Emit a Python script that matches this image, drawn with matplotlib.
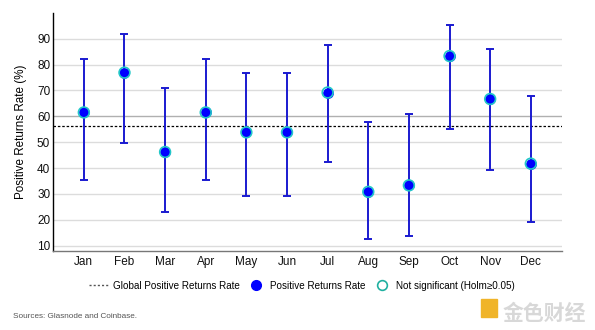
import matplotlib
matplotlib.use("Agg")
import matplotlib.pyplot as plt
from matplotlib.lines import Line2D
from matplotlib.patches import Rectangle
import numpy as np

plt.rcParams["font.family"] = ["Liberation Sans", "DejaVu Sans"]

MONTHS = ["Jan", "Feb", "Mar", "Apr", "May", "Jun", "Jul", "Aug", "Sep", "Oct", "Nov", "Dec"]
RATE = [61.5, 76.9, 46.2, 61.5, 53.8, 53.8, 69.2, 30.8, 33.3, 83.3, 66.7, 41.7]
CI_LOW = [35.5, 49.7, 23.1, 35.5, 29.1, 29.1, 42.4, 12.6, 13.8, 55.2, 39.1, 19.3]
CI_HIGH = [82.3, 91.8, 70.8, 82.3, 76.9, 76.9, 87.4, 57.7, 60.9, 95.3, 86.0, 67.9]
NOT_SIG = [True] * 12
GLOBAL_RATE = 56.4
YTICKS = [10, 20, 30, 40, 50, 60, 70, 80, 90]

x = np.arange(len(MONTHS))
rate = np.array(RATE)
yerr = np.vstack([rate - np.array(CI_LOW), np.array(CI_HIGH) - rate])

fig = plt.figure(figsize=(5.95, 3.30), dpi=100)
ax = fig.add_axes([0.089, 0.240, 0.855, 0.721])

for t in YTICKS:
    ax.axhline(t, color="#b0b0b0" if t == 60 else "#dcdcdc", lw=1.0, zorder=0)
ax.axhline(GLOBAL_RATE, color="black", ls=(0, (2, 1.5)), lw=0.9, zorder=1)

ax.errorbar(x, rate, yerr=yerr, fmt="none", ecolor="#1a1ad0", elinewidth=1.4,
            capsize=3, capthick=1.4, zorder=2)
ax.scatter(x, rate, s=60, color="#0000ff", zorder=3, linewidths=0)
ns = np.array(NOT_SIG)
ax.scatter(x[ns], rate[ns], s=60, facecolors="none", edgecolors="#22c8c8",
           linewidths=1.2, zorder=4)

ax.set_xlim(-0.76, 11.76)
ax.set_ylim(8, 100)
ax.set_yticks(YTICKS)
ax.set_xticks(x)
ax.set_xticklabels(MONTHS)
ax.tick_params(axis="both", length=0, labelsize=8.5, colors="#111111")
ax.tick_params(axis="x", pad=4)
ax.tick_params(axis="y", pad=2)
for s in ["top", "right"]:
    ax.spines[s].set_visible(False)
ax.spines["left"].set_color("black")
ax.spines["left"].set_linewidth(1.0)
ax.spines["bottom"].set_color("#777777")
ax.spines["bottom"].set_linewidth(1.0)
ax.set_ylabel("Positive Returns Rate (%)", fontsize=8.4, labelpad=7)

handles = [
    Line2D([], [], color="#555555", ls=(0, (1.5, 1.5)), lw=1.0),
    Line2D([], [], marker="o", ls="none", markerfacecolor="#0000ff",
           markeredgecolor="#0000ff", markersize=7),
    Line2D([], [], marker="o", ls="none", markerfacecolor="white",
           markeredgecolor="#20b0a0", markersize=7, markeredgewidth=1.2),
]
labels = ["Global Positive Returns Rate", "Positive Returns Rate",
          "Not significant (Holm\u22650.05)"]
fig.legend(handles, labels, loc="center", bbox_to_anchor=(0.508, 0.134), ncol=3,
           frameon=False, fontsize=7.1, handlelength=1.9, handletextpad=0.5,
           columnspacing=0.7)

fig.text(0.022, 0.035, "Sources: Glasnode and Coinbase.", fontsize=5.9, color="#555555")
fig.patches.append(Rectangle((0.808, 0.04), 0.028, 0.055, transform=fig.transFigure,
                             color="#f0b429", zorder=5))
fig.text(0.985, 0.03, "金色财经", fontsize=15, color="#d8d8d8", ha="right",
         family=["Noto Sans CJK SC", "DejaVu Sans"], fontweight="bold")

fig.savefig("out.png", dpi=100)
